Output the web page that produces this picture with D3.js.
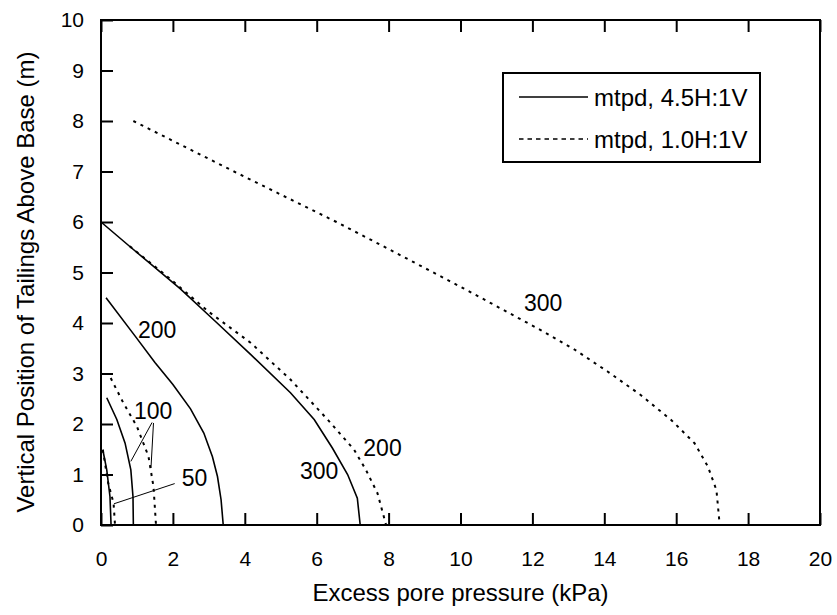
<!DOCTYPE html>
<html>
<head>
<meta charset="utf-8">
<script src="https://cdn.jsdelivr.net/npm/d3@7"></script>
<style>
  body { margin: 0; background: #fff; }
  svg text { font-family: "Liberation Sans", Arial, sans-serif; fill: #000; }
</style>
</head>
<body>
<svg id="chart" width="837" height="615"></svg>
<script>
// ---- data ----
const xTicks = [0, 2, 4, 6, 8, 10, 12, 14, 16, 18, 20];
const yTicks = [0, 1, 2, 3, 4, 5, 6, 7, 8, 9, 10];
const xTitle = "Excess pore pressure (kPa)";
const yTitle = "Vertical Position of Tailings Above Base (m)";
const legendLabels = ["mtpd, 4.5H:1V", "mtpd, 1.0H:1V"];

// 4.5H:1V (solid)
const solid50  = [[0.05,1.49],[0.16,1.09],[0.25,0.56],[0.28,0]];
const solid100 = [[0.16,2.52],[0.44,2.09],[0.67,1.62],[0.83,1.09],[0.89,0.56],[0.90,0]];
const solid200 = [[0.14,4.5],[0.95,3.74],[1.5,3.22],[2.0,2.78],[2.49,2.3],[2.86,1.82],[3.1,1.35],[3.24,0.96],[3.34,0.5],[3.40,0]];
const solid300 = [[0,6],[0.81,5.51],[2.2,4.68],[3.2,4.02],[4.16,3.38],[5.27,2.62],[5.93,2.09],[6.44,1.52],[6.86,1.0],[7.13,0.53],[7.21,0]];
// 1.0H:1V (dotted)
const dotted50  = [[0.05,1.49],[0.2,0.83],[0.35,0.43],[0.39,0]];
const dotted100 = [[0.27,2.91],[0.62,2.42],[1.0,1.95],[1.32,1.36],[1.46,0.76],[1.53,0]];
const dotted200 = [[0.8,5.52],[1.93,4.87],[3.0,4.22],[4.16,3.61],[5.27,2.88],[6.3,2.09],[7.04,1.49],[7.37,1.09],[7.69,0.63],[7.93,0]];
const dotted300 = [[0.9,8.0],[3.7,7.0],[6.55,6.0],[8.04,5.45],[10.1,4.68],[12.23,3.86],[13.16,3.48],[14.09,3.04],[15.02,2.57],[15.86,2.08],[16.51,1.62],[16.88,1.16],[17.12,0.69],[17.21,0]];

const curveLabels = [
  {text: "300", x: 12.3, y: 4.4},
  {text: "200", x: 7.83, y: 1.52},
  {text: "300", x: 6.07, y: 1.06},
  {text: "200", x: 1.56, y: 3.87},
  {text: "100", x: 1.45, y: 2.25},
  {text: "50",  x: 2.6,  y: 0.93}
];
const leaders = [
  [[1.42,2.03],[0.83,1.26]],
  [[1.46,2.02],[1.39,1.13]],
  [[2.05,0.82],[0.36,0.42]]
];

// ---- layout ----
const svg = d3.select("#chart");
const L = 101, R = 820, T = 20, B = 525;
const x = d3.scaleLinear().domain([0, 20]).range([L, R]);
const y = d3.scaleLinear().domain([0, 10]).range([B, T]);
const tickFs = 21, titleFs = 24, labelFs = 23, legendFs = 24;

// frame
svg.append("rect").attr("x", L).attr("y", T).attr("width", R - L).attr("height", B - T)
  .attr("fill", "none").attr("stroke", "#000").attr("stroke-width", 2);

// axes
const tickLen = 12;
const xAxisB = d3.axisBottom(x).tickValues(xTicks).tickSize(-tickLen).tickPadding(26).tickFormat(d3.format("d"));
const gxb = svg.append("g").attr("transform", `translate(0,${B})`).call(xAxisB);
const xAxisT = d3.axisTop(x).tickValues(xTicks).tickSize(-tickLen).tickFormat("");
const gxt = svg.append("g").attr("transform", `translate(0,${T})`).call(xAxisT);
const yAxisL = d3.axisLeft(y).tickValues(yTicks).tickSize(-tickLen).tickPadding(17).tickFormat(d3.format("d"));
const gyl = svg.append("g").attr("transform", `translate(${L},0)`).call(yAxisL);
[gxb, gxt, gyl].forEach(g => {
  g.select(".domain").remove();
  g.selectAll(".tick line").attr("stroke", "#000").attr("stroke-width", 2);
  g.selectAll(".tick text").attr("font-size", tickFs).attr("font-family", "Liberation Sans, Arial, sans-serif");
});

// titles
svg.append("text").attr("x", (L + R) / 2).attr("y", 601).attr("text-anchor", "middle")
  .attr("font-size", titleFs).text(xTitle);
svg.append("text").attr("transform", `translate(28,${282}) rotate(-90)`)
  .attr("text-anchor", "middle").attr("dominant-baseline", "middle").attr("font-size", titleFs).text(yTitle);

// curves
const line = d3.line().x(d => x(d[0])).y(d => y(d[1]));
const g = svg.append("g");
const solids = [solid50, solid100, solid200, solid300];
const dotteds = [dotted50, dotted100, dotted200, dotted300];
g.selectAll("path.solid").data(solids).join("path").attr("class", "solid")
  .attr("d", line).attr("fill", "none").attr("stroke", "#000").attr("stroke-width", 1.6);
g.selectAll("path.dotted").data(dotteds).join("path").attr("class", "dotted")
  .attr("d", line).attr("fill", "none").attr("stroke", "#000").attr("stroke-width", 2)
  .attr("stroke-dasharray", "3,5");

// leaders
g.selectAll("path.leader").data(leaders).join("path").attr("class", "leader")
  .attr("d", line).attr("fill", "none").attr("stroke", "#000").attr("stroke-width", 1);

// curve labels
svg.selectAll("text.clabel").data(curveLabels).join("text").attr("class", "clabel")
  .attr("x", d => x(d.x)).attr("y", d => y(d.y)).attr("text-anchor", "middle")
  .attr("dominant-baseline", "central").attr("font-size", labelFs).text(d => d.text);

// legend
const lg = svg.append("g");
lg.append("rect").attr("x", 503).attr("y", 73).attr("width", 257).attr("height", 89)
  .attr("fill", "#fff").attr("stroke", "#000").attr("stroke-width", 2);
const rows = [{dash: null, label: legendLabels[0], yy: 97}, {dash: "4.5,4", label: legendLabels[1], yy: 139}];
rows.forEach(r => {
  lg.append("line").attr("x1", 519).attr("x2", 588).attr("y1", r.yy).attr("y2", r.yy)
    .attr("stroke", "#000").attr("stroke-width", 1.6)
    .attr("stroke-dasharray", r.dash);
  lg.append("text").attr("x", 594).attr("y", r.yy).attr("dominant-baseline", "central")
    .attr("font-size", legendFs).text(r.label);
});
</script>
</body>
</html>
